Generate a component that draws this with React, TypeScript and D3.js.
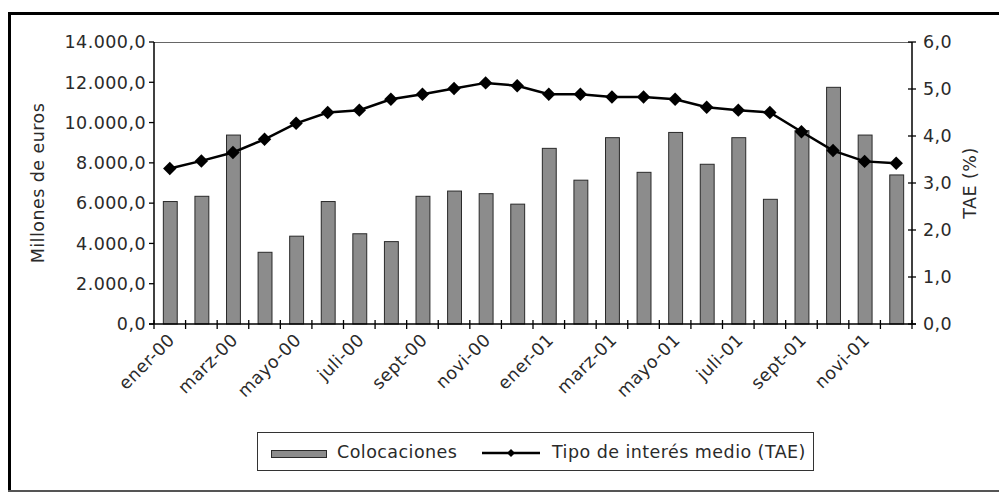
import React from "react";
import * as d3 from "d3";

const categories = [
  "ener-00","febr-00","marz-00","abri-00","mayo-00","juni-00","juli-00","agos-00","sept-00","octu-00","novi-00","dici-00",
  "ener-01","febr-01","marz-01","abri-01","mayo-01","juni-01","juli-01","agos-01","sept-01","octu-01","novi-01","dici-01",
];
const colocaciones = [
  6080, 6340, 9380, 3560, 4360, 6080, 4480, 4090, 6340, 6600, 6470, 5950,
  8720, 7140, 9250, 7530, 9510, 7930, 9250, 6190, 9600, 11750, 9380, 7400,
];
const tae = [
  3.31, 3.47, 3.65, 3.93, 4.27, 4.5, 4.55, 4.78, 4.89, 5.01, 5.13, 5.07,
  4.89, 4.89, 4.83, 4.83, 4.78, 4.61, 4.55, 4.5, 4.09, 3.69, 3.46, 3.42,
];
const leftTicks = [0, 2000, 4000, 6000, 8000, 10000, 12000, 14000];
const rightTicks = [0, 1, 2, 3, 4, 5, 6];

const FONT = "'DejaVu Sans', sans-serif";
const TXT = "#2a2a2a";
const FS = 17.5;
const LS = 0.45;

export default function App() {
  const L = 154, R = 912, T = 42, B = 324;
  const x = d3.scaleBand<string>().domain(categories).range([L, R]).paddingInner(0.56).paddingOuter(0.28);
  const xb = d3.scaleBand<string>().domain(categories).range([L, R]);
  const yL = d3.scaleLinear().domain([0, 14000]).range([B, T]);
  const yR = d3.scaleLinear().domain([0, 6]).range([B, T]);
  const fmt = (v: number, d: number) => {
    const s = v.toFixed(d).replace(".", ",");
    const [i, f] = s.split(",");
    return i.replace(/\B(?=(\d{3})+(?!\d))/g, ".") + "," + f;
  };
  const cx = (i: number) => (xb(categories[i]) as number) + xb.bandwidth() / 2;
  const line = d3.line<number>().x((_, i) => cx(i)).y((v) => yR(v));
  const diamond = d3.symbol().type(d3.symbolDiamond2).size(115)();

  return (
    <svg width={999} height={492} style={{ position: "absolute", left: 0, top: 0, background: "#fff" }}
      fontFamily={FONT} letterSpacing={LS}>
      <rect x={0} y={0} width={999} height={492} fill="#fff" />
      {/* outer border */}
      <line x1={8} x2={999} y1={13.5} y2={13.5} stroke="#000" strokeWidth={3} />
      <line x1={9.5} x2={9.5} y1={12} y2={492} stroke="#000" strokeWidth={3} />
      <line x1={8} x2={999} y1={491} y2={491} stroke="#555" strokeWidth={2} />

      {/* plot frame top */}
      <line x1={L} x2={R} y1={T + 0.5} y2={T + 0.5} stroke="#666" strokeWidth={1.2} />

      {/* bars */}
      {colocaciones.map((v, i) => (
        <rect key={i} x={(x(categories[i]) as number) + 0.5} y={yL(v)} width={x.bandwidth()} height={B - yL(v)}
          fill="#8c8c8c" stroke="#2a2a2a" strokeWidth={1} />
      ))}

      {/* line */}
      <path d={line(tae) as string} fill="none" stroke="#000" strokeWidth={2.5} />
      {tae.map((v, i) => (
        <path key={i} d={diamond as string} transform={`translate(${cx(i)},${yR(v)})`} fill="#000" />
      ))}

      {/* left axis */}
      <line x1={L} x2={L} y1={T} y2={B} stroke="#000" strokeWidth={1.5} />
      {leftTicks.map((t) => (
        <g key={t}>
          <line x1={L - 5} x2={L} y1={yL(t)} y2={yL(t)} stroke="#000" strokeWidth={1.3} />
          <text x={L - 8} y={yL(t)} dy="0.36em" textAnchor="end" fontSize={FS} fill={TXT}>{fmt(t, 1)}</text>
        </g>
      ))}
      {/* right axis */}
      <line x1={R} x2={R} y1={T} y2={B} stroke="#000" strokeWidth={1.5} />
      {rightTicks.map((t) => (
        <g key={t}>
          <line x1={R - 4} x2={R + 4} y1={yR(t)} y2={yR(t)} stroke="#000" strokeWidth={1.3} />
          <text x={R + 11} y={yR(t)} dy="0.36em" textAnchor="start" fontSize={FS} fill={TXT}>{fmt(t, 1)}</text>
        </g>
      ))}
      {/* bottom axis */}
      <line x1={L - 5} x2={R + 4} y1={B} y2={B} stroke="#000" strokeWidth={1.5} />
      {categories.concat(["end"]).map((c, i) => {
        const px = L + i * xb.bandwidth();
        return <line key={i} x1={px} x2={px} y1={B - 4} y2={B + 5} stroke="#000" strokeWidth={1.3} />;
      })}
      {categories.map((c, i) =>
        i % 2 === 0 ? (
          <text key={c} fontSize={FS} fill={TXT} textAnchor="end"
            transform={`translate(${cx(i) + 6},${B + 17}) rotate(-45)`}>{c}</text>
        ) : null
      )}

      {/* axis titles */}
      <text transform={`translate(44,${(T + B) / 2}) rotate(-90)`} textAnchor="middle" fontSize={FS} fill={TXT}>Millones de euros</text>
      <text transform={`translate(976,${(T + B) / 2}) rotate(-90)`} textAnchor="middle" fontSize={FS} fill={TXT}>TAE (%)</text>

      {/* legend */}
      <rect x={257.5} y={432.5} width={556} height={38} fill="#fff" stroke="#333" strokeWidth={1} />
      <rect x={271.5} y={450.5} width={55} height={7} fill="#8c8c8c" stroke="#2a2a2a" strokeWidth={1} />
      <text x={337} y={451.5} dy="0.36em" fontSize={FS} fill={TXT}>Colocaciones</text>
      <line x1={482} x2={540} y1={453} y2={453} stroke="#000" strokeWidth={2.5} />
      <path d={d3.symbol().type(d3.symbolDiamond2).size(40)() as string} transform="translate(511,453)" fill="#000" />
      <text x={552} y={451.5} dy="0.36em" fontSize={FS} fill={TXT}>Tipo de interés medio (TAE)</text>
    </svg>
  );
}
